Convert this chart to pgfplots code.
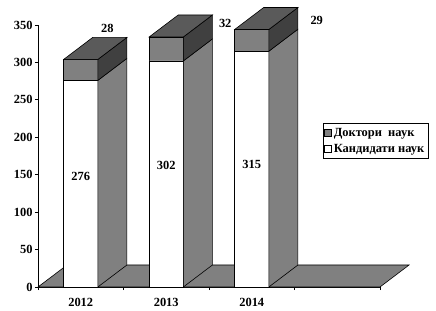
\documentclass[border=0pt]{standalone}
\usepackage{fontspec}
\setmainfont{Liberation Serif}
\usepackage{pgfplots}
\usepackage{pgfplotstable}
\pgfplotsset{compat=1.18}
\definecolor{cgray}{HTML}{808080}
\definecolor{cdark}{HTML}{404040}
\definecolor{ctop}{HTML}{5A5A5A}
\newcommand\chartfont{\bfseries\fontsize{12.5}{14}\selectfont}
\tikzset{vallab/.style={font=\chartfont}}

% x: category centre; kand: Кандидати наук; dokt: Доктори наук
% ty: y of inner label; lx, ly: position of top label
\pgfplotstableread{
x   kand dokt ty  lx   ly
0.5 276  28   148 0.81 346
1.5 302  32   163 2.19 352
2.5 315  29   164 3.26 356
}\datatable

\def\dx{0.34}
\def\dy{29.4}

\begin{document}
\begin{tikzpicture}
\begin{axis}[
  scale only axis, width=342bp, height=262bp,
  xmin=0, xmax=4, ymin=0, ymax=350,
  clip=false,
  axis x line=bottom, axis y line=left,
  axis line style={-, line width=0.8bp},
  xtick={0,1,2,3,4}, xticklabels={},
  extra x ticks={0.5,1.5,2.5},
  extra x tick labels={2012,2013,2014},
  extra x tick style={major tick length=0pt, xticklabel style={yshift=-8bp}},
  ytick={0,50,...,350},
  tick align=outside,
  major tick length=3bp,
  tick style={line width=0.8bp, black},
  tick label style={font=\chartfont},
  yticklabel style={xshift=1bp},
  /pgf/number format/assume math mode=true,
  every axis plot/.append style={line width=0.6bp},
  legend style={at={(0.832,0.626)}, anchor=north west, draw=black,
    line width=0.5bp, font=\chartfont,
    inner xsep=1.5bp, inner ysep=3bp, row sep=2bp, cells={anchor=west}},
  legend image code/.code={\draw[#1, line width=0.5bp] (0bp,-3.5bp) rectangle (7bp,3.5bp);},
]
\addlegendimage{fill=cgray, draw=black}
\addlegendentry{Доктори\ \ наук}
\addlegendimage{fill=white, draw=black}
\addlegendentry{Кандидати наук}

% floor
\addplot[fill=cgray, draw=black, forget plot] coordinates {(0,0) (4,0) (4.34,29.4) (0.34,29.4)} -- cycle;

% front faces
\addplot[ybar, bar width=0.4, bar shift=0, fill=cgray, draw=black, forget plot]
  table[x=x, y expr=\thisrow{kand}+\thisrow{dokt}] {\datatable};
\addplot[ybar, bar width=0.4, bar shift=0, fill=white, draw=black, forget plot]
  table[x=x, y=kand] {\datatable};

\pgfplotsinvokeforeach{0,1,2}{
  \pgfplotstablegetelem{#1}{x}\of\datatable \let\bx\pgfplotsretval
  \pgfplotstablegetelem{#1}{kand}\of\datatable \let\kk\pgfplotsretval
  \pgfplotstablegetelem{#1}{dokt}\of\datatable \let\dd\pgfplotsretval
  \pgfplotstablegetelem{#1}{ty}\of\datatable \let\ty\pgfplotsretval
  \pgfplotstablegetelem{#1}{lx}\of\datatable \let\lx\pgfplotsretval
  \pgfplotstablegetelem{#1}{ly}\of\datatable \let\ly\pgfplotsretval
  \pgfmathsetmacro\xa{\bx-0.2}
  \pgfmathsetmacro\xb{\bx+0.2}
  \pgfmathsetmacro\xc{\xb+\dx}
  \pgfmathsetmacro\xd{\xa+\dx}
  \pgfmathsetmacro\ytot{\kk+\dd}
  \pgfmathsetmacro\ykdy{\kk+\dy}
  \pgfmathsetmacro\ytop{\kk+\dd+\dy}
  \edef\temp{%
    \noexpand\addplot[fill=cgray, draw=black, forget plot] coordinates {(\xb,0) (\xc,\dy) (\xc,\ykdy) (\xb,\kk)} -- cycle;
    \noexpand\addplot[fill=cdark, draw=black, forget plot] coordinates {(\xb,\kk) (\xc,\ykdy) (\xc,\ytop) (\xb,\ytot)} -- cycle;
    \noexpand\addplot[fill=ctop, draw=black, forget plot] coordinates {(\xa,\ytot) (\xb,\ytot) (\xc,\ytop) (\xd,\ytop)} -- cycle;
    \noexpand\node[vallab] at (axis cs:\bx,\ty) {\kk};
    \noexpand\node[vallab] at (axis cs:\lx,\ly) {\dd};
  }\temp
}
\end{axis}
\pgfresetboundingbox
\path[use as bounding box] (-38bp,-24bp) rectangle (398bp,287bp);
\end{tikzpicture}
\end{document}
